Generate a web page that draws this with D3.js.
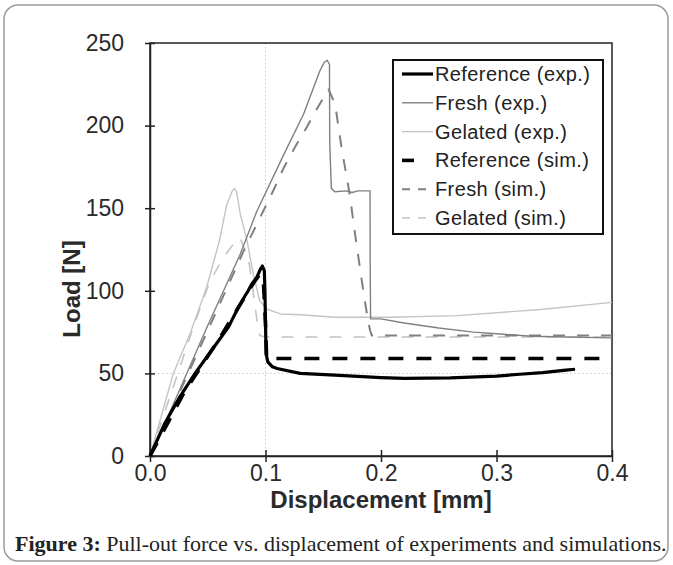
<!DOCTYPE html>
<html>
<head>
<meta charset="utf-8">
<script src="https://cdn.jsdelivr.net/npm/d3@7"></script>
<style>
  body { margin: 0; background: #fff; }
  svg { display: block; }
  text { font-family: "Liberation Sans", Arial, sans-serif; }
</style>
</head>
<body>
<div id="chart"></div>
<script>
// data: [displacement mm, load N]
var refExp = [[0,0],[0.013,20],[0.026,36],[0.039,50],[0.0534,64],[0.0679,78],[0.0765,90],[0.0823,97],[0.085,100],
  [0.088,104],[0.0924,108],[0.0955,113],[0.0973,115],[0.099,112],[0.0995,100],[0.1,80],[0.1005,62],[0.102,57],
  [0.106,54],[0.11,53],[0.13,50],[0.16,49],[0.2,47.5],[0.22,47],[0.26,47.3],[0.3,48.3],[0.32,49.5],[0.34,50.5],
  [0.36,52],[0.368,52.5]]
var freshExp = [[0,0],[0.02,31],[0.05,79],[0.078,122],[0.0924,148],[0.1155,182],[0.133,207],[0.147,233],
  [0.151,238.5],[0.1535,239.5],[0.1554,237],[0.1556,190],[0.157,162],[0.16,160],[0.17,160.5],[0.175,159.5],
  [0.18,160.5],[0.1905,160.5],[0.1906,120],[0.191,83],[0.2,83],[0.22,80.5],[0.25,77.5],[0.28,75],[0.3,74],
  [0.33,72.5],[0.36,72],[0.4,71.5]]
var gelExp = [[0,0],[0.0202,50],[0.0347,74],[0.049,102],[0.06,130],[0.0664,152],[0.071,160],[0.073,162],
  [0.075,160],[0.078,147],[0.0838,131],[0.0895,110],[0.095,94],[0.101,89],[0.113,86],[0.13,85.5],[0.16,84],
  [0.19,84],[0.208,84],[0.266,85],[0.338,88.7],[0.4,93]]
var refSim = [[0,0],[0.03,39],[0.06,71],[0.088,103],[0.095,110],[0.098,108],[0.1,80],[0.101,59],[0.4,59]]
var freshSim = [[0,0],[0.02,30],[0.05,76],[0.081,124],[0.1,151],[0.107,161],[0.1155,174],[0.1256,187],
  [0.1357,199],[0.1444,210],[0.1545,222],[0.1603,213],[0.163,200],[0.166,186],[0.169,174],[0.173,158],
  [0.1776,134],[0.1834,106],[0.1862,93],[0.189,81],[0.1906,76],[0.192,73],[0.4,73]]
var gelSim = [[0,0],[0.0375,78],[0.052,106],[0.0635,120],[0.075,131],[0.078,132],[0.082,125],[0.086,116],
  [0.09,96],[0.093,80],[0.095,73],[0.1,72],[0.4,72]]

var xTicks = [0, 0.1, 0.2, 0.3, 0.4]
var yTicks = [0, 50, 100, 150, 200, 250]
var legendNames = ["Reference (exp.)", "Fresh (exp.)", "Gelated (exp.)", "Reference (sim.)", "Fresh (sim.)", "Gelated (sim.)"]

var W = 673, H = 565
var pLeft = 150, pRight = 612, pTop = 43, pBottom = 456

var svg = d3.select("#chart").append("svg")
  .attr("width", W)
  .attr("height", H)

// outer rounded frame
svg.append("rect")
  .attr("x", 4).attr("y", 5)
  .attr("width", 664).attr("height", 556)
  .attr("rx", 14)
  .attr("fill", "none")
  .attr("stroke", "#9a9a9a")
  .attr("stroke-width", 1.5)

var x = d3.scaleLinear().domain([0, 0.4]).range([pLeft, pRight])
var y = d3.scaleLinear().domain([0, 250]).range([pBottom, pTop])

// dotted guide lines
svg.append("line")
  .attr("x1", x(0.1)).attr("x2", x(0.1))
  .attr("y1", y(250)).attr("y2", y(0))
  .attr("stroke", "#c8c8c8").attr("stroke-dasharray", "1.5,2.5")
svg.append("line")
  .attr("x1", x(0)).attr("x2", x(0.4))
  .attr("y1", y(50)).attr("y2", y(50))
  .attr("stroke", "#c8c8c8").attr("stroke-dasharray", "1.5,2.5")

// plot frame
svg.append("rect")
  .attr("x", pLeft).attr("y", pTop)
  .attr("width", pRight - pLeft).attr("height", pBottom - pTop)
  .attr("fill", "none")
  .attr("stroke", "#222")
  .attr("stroke-width", 1.5)

var xAxis = d3.axisBottom(x).tickValues(xTicks).tickFormat(d3.format(".1f"))
  .tickSizeInner(6).tickSizeOuter(0).tickPadding(3)
var yAxis = d3.axisLeft(y).tickValues(yTicks).tickFormat(d3.format("d"))
  .tickSizeInner(5).tickSizeOuter(0).tickPadding(21)

var gx = svg.append("g")
  .attr("transform", "translate(0," + pBottom + ")")
  .call(xAxis)
gx.selectAll(".tick line").attr("y1", -6)
var gy = svg.append("g")
  .attr("transform", "translate(" + pLeft + ",0)")
  .call(yAxis)
gy.selectAll(".tick line").attr("x1", 5)

svg.selectAll(".domain").attr("stroke", "#222").attr("stroke-width", 1.5)
svg.selectAll(".tick line").attr("stroke", "#222").attr("stroke-width", 1.5)
svg.selectAll(".tick text")
  .style("font-size", "23px")
  .style("font-family", "'Liberation Sans', Arial, sans-serif")
  .attr("fill", "#2a2a2a")

// axis titles
svg.append("text")
  .attr("x", (pLeft + pRight) / 2)
  .attr("y", 508)
  .attr("text-anchor", "middle")
  .style("font-size", "24px")
  .style("font-weight", "bold")
  .attr("fill", "#2a2a2a")
  .text("Displacement [mm]")
svg.append("text")
  .attr("transform", "translate(80,289) rotate(-90)")
  .attr("text-anchor", "middle")
  .style("font-size", "24px")
  .style("font-weight", "bold")
  .attr("fill", "#2a2a2a")
  .text("Load [N]")

var line = d3.line()
  .x(function(d){ return x(d[0]) })
  .y(function(d){ return y(d[1]) })

var series = [
  {data: gelExp,   color: "#c4c4c4", width: 1.4, dash: null},
  {data: gelSim,   color: "#c4c4c4", width: 1.6, dash: "12,12"},
  {data: freshExp, color: "#808080", width: 1.4, dash: null},
  {data: freshSim, color: "#808080", width: 2,   dash: "12,12"},
  {data: refExp,   color: "#000",    width: 3.2, dash: null},
  {data: refSim,   color: "#000",    width: 3.6, dash: "15,13"}
]

series.forEach(function(s){
  svg.append("path")
    .datum(s.data)
    .attr("d", line)
    .attr("fill", "none")
    .attr("stroke", s.color)
    .attr("stroke-width", s.width)
    .attr("stroke-dasharray", s.dash)
    .attr("stroke-linejoin", "round")
})

// legend
var legendOrder = [4, 2, 0, 5, 3, 1]
svg.append("rect")
  .attr("x", 393).attr("y", 60)
  .attr("width", 210).attr("height", 174)
  .attr("fill", "#fff")
  .attr("stroke", "#111")
  .attr("stroke-width", 2)

var lg = svg.selectAll(".legend").data(legendNames)
  .enter().append("g")
  .attr("class", "legend")
  .attr("transform", function(d, i){ return "translate(0," + (74 + 28.8 * i) + ")" })

lg.append("line")
  .attr("x1", 402).attr("x2", 433)
  .attr("y1", 0).attr("y2", 0)
  .attr("stroke", function(d, i){ return series[legendOrder[i]].color })
  .attr("stroke-width", function(d, i){ return series[legendOrder[i]].width })
  .attr("stroke-dasharray", function(d, i){ return i == 3 ? "12,40" : (i > 3 ? "8,8" : null) })

lg.append("text")
  .attr("x", 435)
  .attr("y", 0)
  .attr("dy", "0.35em")
  .style("font-size", "20px")
  .style("letter-spacing", "0.4px")
  .attr("fill", "#222")
  .text(function(d){ return d })

// caption
var cap = svg.append("text")
  .attr("x", 15)
  .attr("y", 551)
  .style("font-family", "'Liberation Serif', 'Times New Roman', serif")
  .style("font-size", "22px")
  .attr("fill", "#222")
cap.append("tspan").style("font-weight", "bold").text("Figure 3:")
cap.append("tspan").text(" Pull-out force vs. displacement of experiments and simulations.")
</script>
</body>
</html>
